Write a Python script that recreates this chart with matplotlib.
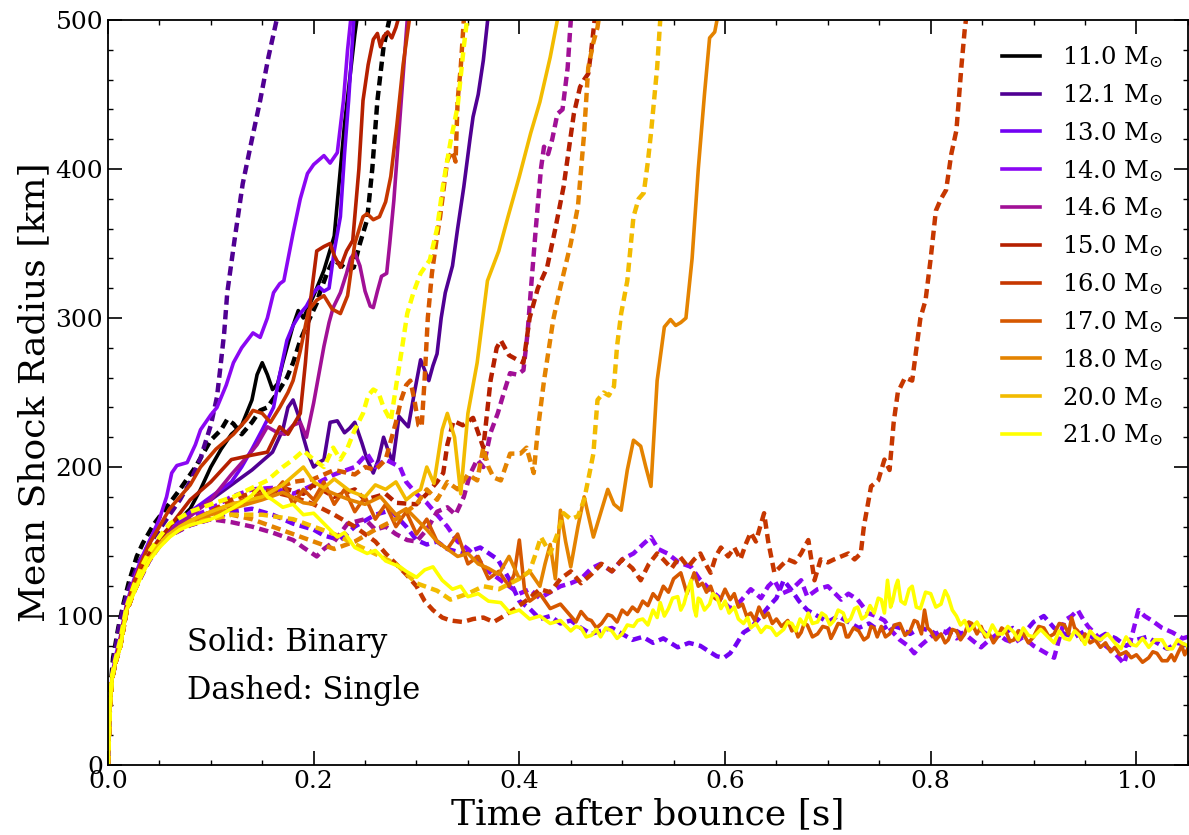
import numpy as np
import matplotlib
matplotlib.use("Agg")
import matplotlib.pyplot as plt

plt.rcParams['font.family'] = 'DejaVu Serif'
plt.rcParams['mathtext.fontset'] = 'dejavuserif'

masses = ["11.0", "12.1", "13.0", "14.0", "14.6", "15.0", "16.0", "17.0", "18.0", "20.0", "21.0"]

# binary progenitors (solid), (time [s], mean shock radius [km])
b11 = [(0,0),(0.002,40),(0.004,58),(0.007,68),(0.012,82),(0.018,104),(0.025,118),(0.032,128),(0.04,140),(0.05,150),(0.06,158),(0.07,165),(0.08,172),(0.09,185),(0.10,200),(0.11,212),(0.12,222),(0.13,228),(0.14,245),(0.145,262),(0.15,270),(0.155,262),(0.16,252),(0.165,256),(0.17,270),(0.18,295),(0.185,305),(0.19,300),(0.20,315),(0.21,332),(0.22,355),(0.23,430),(0.24,490),(0.245,515)]
b12 = [(0,0),(0.002,40),(0.004,58),(0.007,68),(0.012,82),(0.018,104),(0.025,118),(0.032,128),(0.04,140),(0.05,150),(0.06,157),(0.08,168),(0.10,178),(0.12,188),(0.14,198),(0.16,210),(0.17,225),(0.175,240),(0.18,245),(0.185,235),(0.19,220),(0.195,208),(0.20,200),(0.205,203),(0.21,205),(0.216,230),(0.223,231),(0.23,223),(0.235,226),(0.24,230),(0.247,216),(0.252,205),(0.258,196),(0.263,205),(0.268,220),(0.272,212),(0.277,203),(0.283,234),(0.288,230),(0.292,227),(0.298,250),(0.304,272),(0.308,265),(0.312,258),(0.316,268),(0.32,276),(0.324,300),(0.328,317),(0.335,335),(0.34,360),(0.346,388),(0.352,420),(0.355,435),(0.36,450),(0.365,473),(0.37,505)]
b13 = [(0,0),(0.002,40),(0.004,58),(0.007,68),(0.012,82),(0.018,104),(0.025,118),(0.032,128),(0.04,140),(0.05,150),(0.06,158),(0.08,170),(0.10,180),(0.12,190),(0.13,200),(0.14,212),(0.15,225),(0.161,240),(0.167,262),(0.174,285),(0.18,295),(0.187,303),(0.193,308),(0.20,317),(0.205,321),(0.21,318),(0.215,320),(0.22,345),(0.226,368),(0.23,410),(0.234,446),(0.239,500),(0.243,530)]
b14 = [(0,0),(0.002,42),(0.004,60),(0.007,72),(0.012,86),(0.018,108),(0.025,124),(0.032,138),(0.04,150),(0.05,165),(0.057,180),(0.062,196),(0.067,201),(0.077,203),(0.085,215),(0.09,225),(0.10,235),(0.106,240),(0.115,255),(0.122,270),(0.13,280),(0.141,290),(0.148,287),(0.155,300),(0.161,317),(0.167,323),(0.171,325),(0.18,357),(0.187,380),(0.194,397),(0.20,403),(0.21,409),(0.216,404),(0.223,411),(0.229,446),(0.233,480),(0.236,500),(0.24,520)]
b146 = [(0,0),(0.002,40),(0.004,58),(0.007,68),(0.012,82),(0.018,104),(0.025,118),(0.032,128),(0.04,140),(0.05,150),(0.06,157),(0.08,167),(0.10,178),(0.12,195),(0.138,209),(0.145,215),(0.155,227),(0.165,223),(0.172,222),(0.18,228),(0.187,230),(0.193,220),(0.20,243),(0.205,262),(0.21,281),(0.215,297),(0.219,307),(0.226,317),(0.232,330),(0.236,340),(0.24,344),(0.245,335),(0.25,318),(0.255,308),(0.258,307),(0.262,318),(0.266,328),(0.271,330),(0.274,350),(0.278,379),(0.284,435),(0.291,500),(0.294,520)]
b15 = [(0,0),(0.002,40),(0.004,58),(0.007,68),(0.012,82),(0.018,104),(0.025,118),(0.032,130),(0.04,142),(0.05,152),(0.06,160),(0.08,178),(0.10,190),(0.12,205),(0.14,208),(0.155,210),(0.167,227),(0.175,222),(0.187,236),(0.192,270),(0.197,312),(0.203,345),(0.21,348),(0.216,350),(0.22,342),(0.226,334),(0.232,345),(0.238,352),(0.244,400),(0.248,446),(0.253,470),(0.258,487),(0.262,491),(0.265,482),(0.268,489),(0.272,492),(0.276,488),(0.28,495),(0.284,505)]
b16 = [(0,0),(0.002,40),(0.004,58),(0.007,68),(0.012,84),(0.018,106),(0.025,122),(0.032,135),(0.04,148),(0.05,160),(0.06,172),(0.08,188),(0.09,200),(0.105,212),(0.122,222),(0.135,232),(0.141,238),(0.15,236),(0.158,230),(0.167,240),(0.175,250),(0.18,258),(0.187,278),(0.195,305),(0.203,312),(0.21,315),(0.218,306),(0.226,303),(0.233,315),(0.24,350),(0.248,368),(0.252,370),(0.258,366),(0.264,368),(0.27,378),(0.275,395),(0.281,430),(0.287,470),(0.294,505)]
b17 = [(0,0),(0.002,40),(0.004,58),(0.007,68),(0.012,80),(0.018,104),(0.025,116),(0.032,127),(0.04,138),(0.05,148),(0.06,155),(0.07,160),(0.08,164),(0.10,170),(0.12,175),(0.14,178),(0.16,182),(0.17,190),(0.18,175),(0.19,185),(0.20,178),(0.21,190),(0.22,175),(0.23,185),(0.24,170),(0.25,180),(0.26,165),(0.27,175),(0.28,160),(0.29,170),(0.30,155),(0.31,165),(0.32,150),(0.33,145),(0.34,155),(0.35,135),(0.36,140),(0.37,125),(0.38,130),(0.39,120),(0.395,128),(0.40,151),(0.405,118),(0.41,110),(0.42,115),(0.43,105),(0.44,108),
       (0.45,100),(0.455,96),(0.46,103),(0.466,98),(0.47,97),(0.475,92),(0.48,95),(0.486,101),(0.49,100),(0.495,96),(0.5,104),(0.505,101),(0.51,106),(0.515,103),(0.52,110),(0.525,107),(0.53,115),(0.535,111),(0.54,120),(0.545,116),(0.55,125),(0.557,129),(0.563,115),(0.57,129),(0.574,120),(0.578,122),(0.582,116),(0.586,120),(0.59,112),(0.595,110),(0.6,118),(0.605,111),(0.609,115),(0.613,106),(0.617,108),(0.621,100),(0.625,102),(0.629,97),(0.633,106),(0.638,99),(0.642,102),(0.646,95),(0.65,98),(0.655,93),(0.661,97),(0.665,90),(0.668,92),(0.671,86),(0.674,89),(0.677,95),(0.68,94),(0.685,86),(0.69,88),(0.695,93),(0.7,92),(0.703,85),(0.706,89),(0.71,95),(0.715,94),(0.718,86),(0.72,86),(0.725,92),(0.73,90),(0.735,84),(0.739,86),(0.742,93),(0.745,92),(0.748,86),(0.752,93),(0.756,86),(0.76,88),(0.765,94),(0.77,95),(0.775,87),(0.78,90),(0.784,97),(0.787,96),(0.791,88),(0.794,104),(0.797,92),(0.8,90),(0.805,84),(0.81,88),(0.814,82),(0.817,84),(0.821,91),(0.825,90),(0.829,84),(0.833,88),(0.837,96),(0.84,95),(0.845,88),(0.849,93),(0.853,86),(0.857,88),(0.861,82),(0.865,86),(0.869,92),(0.873,90),(0.877,83),(0.881,84),(0.885,90),(0.89,88),(0.895,82),(0.9,86),(0.905,93),(0.91,92),(0.915,86),(0.92,88),(0.925,95),(0.93,94),(0.934,88),(0.937,99),(0.94,92),(0.943,90),(0.947,84),(0.95,88),(0.955,82),(0.96,84),(0.965,79),(0.97,82),(0.975,76),(0.979,79),(0.984,74),(0.99,76),(0.995,72),(1.0,74),(1.006,69),(1.012,72),(1.016,76),(1.02,75),(1.025,70),(1.03,70),(1.034,74),(1.037,70),(1.041,76),(1.044,80),(1.047,74),(1.05,78)]
b18 = [(0,0),(0.002,40),(0.004,58),(0.007,68),(0.012,80),(0.018,104),(0.025,116),(0.032,127),(0.04,138),(0.05,148),(0.06,155),(0.07,160),(0.08,163),(0.10,168),(0.12,172),(0.15,178),(0.17,183),(0.19,176),(0.20,175),(0.21,185),(0.22,182),(0.235,178),(0.25,175),(0.265,180),(0.28,168),(0.29,172),(0.30,165),(0.31,158),(0.32,150),(0.33,145),(0.34,140),(0.35,142),(0.36,135),(0.37,132),(0.38,128),(0.39,140),(0.40,125),(0.41,130),(0.42,120),(0.425,135),(0.43,148),(0.435,125),(0.44,171),(0.445,150),(0.45,133),(0.457,160),(0.463,180),(0.468,165),(0.472,153),(0.479,169),(0.486,185),(0.492,175),(0.499,171),(0.505,198),(0.511,218),(0.518,214),(0.523,200),(0.528,187),(0.534,258),(0.541,294),(0.547,299),(0.552,295),(0.557,297),(0.562,300),(0.568,340),(0.574,400),(0.58,450),(0.585,488),(0.59,492),(0.595,510)]
b20 = [(0,0),(0.002,40),(0.004,58),(0.007,68),(0.012,80),(0.018,104),(0.025,116),(0.032,127),(0.04,138),(0.05,148),(0.06,155),(0.07,160),(0.08,164),(0.10,170),(0.12,175),(0.15,180),(0.17,188),(0.19,200),(0.20,190),(0.21,186),(0.22,192),(0.235,184),(0.25,180),(0.26,188),(0.27,185),(0.28,190),(0.29,178),(0.297,182),(0.304,185),(0.31,200),(0.317,189),(0.325,225),(0.33,236),(0.337,220),(0.343,182),(0.35,236),(0.359,270),(0.369,325),(0.38,345),(0.389,368),(0.40,395),(0.411,424),(0.42,445),(0.43,475),(0.437,500),(0.44,510)]
b21 = [(0,0),(0.002,40),(0.004,58),(0.007,68),(0.012,79),(0.018,104),(0.025,115),(0.032,126),(0.04,137),(0.05,146),(0.06,153),(0.07,158),(0.08,161),(0.09,163),(0.10,165),(0.11,168),(0.12,172),(0.13,176),(0.14,181),(0.148,187),(0.155,180),(0.16,178),(0.17,173),(0.18,175),(0.19,168),(0.20,169),(0.21,162),(0.223,153),(0.23,156),(0.24,146),(0.252,142),(0.26,144),(0.27,137),(0.284,133),(0.29,130),(0.30,126),(0.308,131),(0.316,133),(0.325,124),(0.335,118),(0.343,120),(0.35,113),(0.36,115),(0.37,110),(0.382,109),(0.391,102),(0.40,104),(0.41,98),(0.42,100),(0.43,95),(0.44,97),
       (0.45,90),(0.455,93),(0.46,92),(0.465,86),(0.47,87),(0.475,91),(0.479,86),(0.484,92),(0.49,90),(0.495,85),(0.5,88),(0.505,94),(0.511,93),(0.515,97),(0.52,98),(0.525,94),(0.53,104),(0.534,99),(0.537,109),(0.541,100),(0.545,105),(0.549,112),(0.554,113),(0.557,104),(0.56,108),(0.564,118),(0.567,124),(0.57,105),(0.572,100),(0.574,112),(0.576,111),(0.58,104),(0.585,108),(0.588,115),(0.592,113),(0.596,105),(0.6,110),(0.604,102),(0.609,106),(0.613,98),(0.618,95),(0.622,99),(0.625,92),(0.63,95),(0.635,89),(0.64,93),(0.645,92),(0.65,87),(0.657,91),(0.661,96),(0.665,95),(0.669,90),(0.673,98),(0.677,94),(0.681,102),(0.685,95),(0.69,96),(0.694,102),(0.698,100),(0.702,94),(0.706,97),(0.71,104),(0.715,102),(0.718,96),(0.722,98),(0.726,105),(0.729,106),(0.733,98),(0.737,100),(0.741,107),(0.745,102),(0.749,112),(0.752,111),(0.755,102),(0.758,124),(0.761,106),(0.763,110),(0.766,120),(0.768,124),(0.771,110),(0.775,108),(0.779,118),(0.782,120),(0.786,106),(0.79,105),(0.795,116),(0.8,115),(0.805,106),(0.81,108),(0.814,117),(0.817,113),(0.821,104),(0.825,100),(0.829,94),(0.833,97),(0.837,90),(0.84,92),(0.845,96),(0.849,91),(0.855,86),(0.86,94),(0.865,88),(0.87,88),(0.875,93),(0.881,89),(0.885,84),(0.89,92),(0.895,87),(0.9,86),(0.907,91),(0.914,86),(0.92,82),(0.925,90),(0.93,85),(0.935,84),(0.94,90),(0.946,86),(0.95,81),(0.955,90),(0.96,86),(0.965,84),(0.972,88),(0.979,82),(0.985,78),(0.99,86),(0.995,81),(1.0,80),(1.006,85),(1.012,79),(1.018,84),(1.025,84),(1.03,78),(1.035,78),(1.04,84),(1.044,82),(1.05,80)]

# single progenitors (dashed)
s11 = [(0,0),(0.002,48),(0.005,72),(0.01,92),(0.015,108),(0.02,122),(0.028,140),(0.034,149),(0.045,162),(0.057,173),(0.07,185),(0.085,200),(0.10,218),(0.11,225),(0.116,232),(0.122,229),(0.13,222),(0.14,230),(0.148,238),(0.155,240),(0.165,250),(0.174,260),(0.18,270),(0.187,285),(0.195,298),(0.203,310),(0.206,317),(0.213,330),(0.219,339),(0.226,336),(0.233,332),(0.239,334),(0.245,350),(0.252,366),(0.257,400),(0.262,446),(0.268,482),(0.275,505)]
s12 = [(0,0),(0.002,45),(0.005,68),(0.01,90),(0.015,106),(0.02,118),(0.03,136),(0.04,148),(0.05,158),(0.06,168),(0.07,178),(0.08,190),(0.09,206),(0.10,228),(0.106,247),(0.109,265),(0.113,290),(0.116,317),(0.123,352),(0.131,390),(0.14,420),(0.148,446),(0.156,475),(0.164,500),(0.168,515)]
s13 = [(0,0),(0.002,40),(0.004,58),(0.007,68),(0.012,80),(0.018,103),(0.025,116),(0.032,126),(0.04,137),(0.05,147),(0.06,154),(0.08,161),(0.10,165),(0.12,170),(0.14,172),(0.16,168),(0.18,162),(0.20,158),(0.21,154),(0.226,151),(0.24,160),(0.26,168),(0.275,171),(0.29,160),(0.30,151),(0.31,148),(0.32,150),(0.33,145),(0.346,142),(0.362,146),(0.379,138),(0.39,125),(0.40,110),(0.41,105),(0.42,98),(0.43,100),(0.44,95),(0.45,97),(0.46,92),(0.47,88),(0.479,90),(0.49,92),(0.50,88),(0.51,84),(0.52,86),(0.53,82),(0.54,85),(0.554,79),(0.565,82),(0.576,80),(0.585,76),(0.592,73),(0.599,72),(0.605,75),(0.61,80),(0.618,89),(0.625,92),(0.635,100),(0.642,106),(0.65,112),(0.657,124),(0.664,118),(0.672,110),(0.68,104),(0.69,100),(0.70,96),(0.71,100),(0.72,96),(0.73,92),(0.74,95),(0.75,90),(0.76,94),(0.77,92),(0.78,88),(0.79,92),(0.80,90),(0.81,86),(0.82,92),(0.83,88),(0.84,94),(0.85,90),(0.86,85),(0.87,88),(0.88,92),(0.89,88),(0.90,96),(0.91,100),(0.92,92),(0.93,88),(0.94,86),(0.95,90),(0.96,84),(0.97,88),(0.98,85),(0.99,80),(1.0,84),(1.01,86),(1.02,82),(1.03,78),(1.04,82),(1.05,80)]
s14 = [(0,0),(0.002,40),(0.004,58),(0.007,68),(0.012,82),(0.018,105),(0.025,118),(0.032,128),(0.04,140),(0.05,150),(0.06,158),(0.08,166),(0.10,172),(0.12,180),(0.14,185),(0.16,186),(0.18,182),(0.20,188),(0.22,195),(0.24,200),(0.252,209),(0.26,200),(0.27,205),(0.284,200),(0.29,190),(0.30,182),(0.31,176),(0.32,168),(0.33,160),(0.34,150),(0.35,145),(0.36,138),(0.37,130),(0.38,125),(0.39,120),(0.40,115),(0.41,118),(0.42,112),(0.43,116),(0.44,120),(0.45,122),(0.46,125),(0.47,132),(0.479,135),(0.49,130),(0.50,138),(0.511,142),(0.52,148),(0.528,153),(0.535,145),(0.544,142),(0.555,136),(0.567,133),(0.575,125),(0.585,118),(0.595,112),(0.605,105),(0.615,110),(0.625,118),(0.635,112),(0.642,120),(0.648,124),(0.655,115),(0.665,118),(0.674,124),(0.68,113),(0.69,118),(0.70,120),(0.713,111),(0.72,115),(0.729,111),(0.739,102),(0.747,100),(0.755,97),(0.762,90),(0.77,84),(0.778,80),(0.784,75),(0.79,80),(0.80,86),(0.81,90),(0.817,89),(0.825,85),(0.833,88),(0.84,84),(0.849,79),(0.857,84),(0.865,88),(0.873,84),(0.881,82),(0.89,86),(0.90,80),(0.91,76),(0.92,72),(0.925,85),(0.93,97),(0.937,100),(0.943,104),(0.948,98),(0.953,93),(0.96,88),(0.97,80),(0.979,75),(0.988,68),(0.995,85),(1.002,104),(1.008,100),(1.015,97),(1.025,92),(1.035,89),(1.045,85),(1.05,86)]
s146 = [(0,0),(0.002,40),(0.004,58),(0.007,68),(0.012,80),(0.018,103),(0.025,116),(0.032,126),(0.04,137),(0.05,147),(0.06,154),(0.08,161),(0.10,165),(0.12,163),(0.14,160),(0.16,156),(0.18,151),(0.19,146),(0.203,140),(0.21,145),(0.22,150),(0.233,162),(0.25,165),(0.26,158),(0.27,160),(0.28,155),(0.291,151),(0.30,150),(0.31,158),(0.32,170),(0.33,173),(0.338,168),(0.346,180),(0.352,195),(0.359,205),(0.365,200),(0.372,223),(0.379,236),(0.385,250),(0.391,263),(0.398,262),(0.404,265),(0.408,290),(0.411,317),(0.416,360),(0.421,400),(0.424,415),(0.428,410),(0.432,420),(0.437,437),(0.442,440),(0.447,468),(0.45,500),(0.452,515)]
s15 = [(0,0),(0.002,40),(0.004,58),(0.007,68),(0.012,80),(0.018,103),(0.025,116),(0.032,127),(0.04,138),(0.05,148),(0.06,155),(0.08,162),(0.10,168),(0.12,172),(0.15,180),(0.17,186),(0.19,182),(0.20,188),(0.22,180),(0.24,185),(0.25,178),(0.27,182),(0.28,176),(0.30,175),(0.31,182),(0.32,190),(0.326,196),(0.33,215),(0.336,231),(0.345,228),(0.355,233),(0.365,213),(0.372,258),(0.378,280),(0.382,285),(0.39,275),(0.398,272),(0.404,270),(0.41,300),(0.418,320),(0.427,334),(0.435,360),(0.443,388),(0.453,437),(0.459,455),(0.463,460),(0.467,464),(0.47,480),(0.474,505)]
s16 = [(0,0),(0.002,40),(0.004,58),(0.007,68),(0.012,80),(0.018,103),(0.025,116),(0.032,127),(0.04,138),(0.05,148),(0.06,155),(0.08,163),(0.10,170),(0.12,178),(0.15,185),(0.18,180),(0.20,175),(0.22,168),(0.24,160),(0.26,150),(0.27,142),(0.28,135),(0.29,128),(0.30,120),(0.308,110),(0.316,104),(0.325,99),(0.333,97),(0.345,96),(0.355,98),(0.365,99),(0.375,96),(0.385,100),(0.398,106),(0.41,112),(0.42,118),(0.43,116),(0.44,125),(0.45,130),(0.46,122),(0.47,128),(0.48,135),(0.49,130),(0.50,138),(0.51,132),(0.518,124),(0.526,135),(0.534,142),(0.54,138),(0.548,132),(0.556,140),(0.564,133),(0.57,138),(0.576,142),(0.581,135),(0.586,129),(0.591,140),(0.596,146),(0.603,140),(0.609,146),(0.615,138),(0.62,148),(0.625,156),(0.63,150),(0.635,162),(0.638,169),(0.642,150),(0.648,129),(0.655,134),(0.661,138),(0.668,136),(0.674,142),(0.681,151),(0.687,124),(0.693,138),(0.70,136),(0.706,138),(0.713,140),(0.72,142),(0.726,138),(0.732,142),(0.735,160),(0.742,187),(0.749,191),(0.755,205),(0.76,198),(0.764,230),(0.768,250),(0.775,260),(0.782,258),(0.79,300),(0.795,312),(0.80,340),(0.805,372),(0.81,380),(0.815,386),(0.82,410),(0.825,426),(0.83,470),(0.833,493),(0.836,510)]
s17 = [(0,0),(0.002,40),(0.004,58),(0.007,68),(0.012,80),(0.018,103),(0.025,116),(0.032,127),(0.04,138),(0.05,148),(0.06,155),(0.08,163),(0.10,170),(0.12,175),(0.15,182),(0.18,190),(0.20,192),(0.22,198),(0.24,195),(0.25,200),(0.26,198),(0.27,205),(0.28,230),(0.285,245),(0.29,255),(0.294,258),(0.298,245),(0.302,228),(0.305,227),(0.308,260),(0.311,300),(0.315,330),(0.32,355),(0.323,368),(0.327,390),(0.33,406),(0.335,412),(0.338,405),(0.34,446),(0.343,468),(0.346,500),(0.348,515)]
s18 = [(0,0),(0.002,40),(0.004,58),(0.007,68),(0.012,80),(0.018,103),(0.025,116),(0.032,127),(0.04,138),(0.05,148),(0.06,155),(0.08,162),(0.10,165),(0.12,168),(0.14,165),(0.16,160),(0.18,155),(0.20,150),(0.22,145),(0.24,150),(0.26,158),(0.28,165),(0.30,175),(0.31,185),(0.32,178),(0.33,190),(0.34,185),(0.35,195),(0.359,191),(0.365,213),(0.37,200),(0.375,193),(0.382,191),(0.391,209),(0.401,209),(0.407,213),(0.414,196),(0.418,225),(0.424,258),(0.433,299),(0.44,321),(0.45,350),(0.457,375),(0.463,424),(0.467,468),(0.472,485),(0.476,495),(0.48,515)]
s20 = [(0,0),(0.002,40),(0.004,58),(0.007,68),(0.012,80),(0.018,103),(0.025,116),(0.032,127),(0.04,138),(0.05,148),(0.06,155),(0.08,162),(0.10,165),(0.12,168),(0.15,168),(0.18,165),(0.20,160),(0.22,155),(0.25,145),(0.28,135),(0.30,122),(0.32,117),(0.333,111),(0.35,115),(0.365,120),(0.38,118),(0.40,125),(0.41,130),(0.415,140),(0.421,153),(0.43,142),(0.437,155),(0.443,169),(0.45,165),(0.457,167),(0.463,178),(0.468,195),(0.472,209),(0.476,245),(0.482,250),(0.487,248),(0.492,254),(0.495,281),(0.499,303),(0.505,325),(0.511,368),(0.516,380),(0.521,384),(0.525,405),(0.528,424),(0.534,468),(0.537,500),(0.54,515)]
s21 = [(0,0),(0.002,42),(0.004,60),(0.007,70),(0.012,84),(0.018,106),(0.025,120),(0.032,132),(0.04,143),(0.05,153),(0.06,162),(0.08,170),(0.10,175),(0.122,180),(0.14,186),(0.155,191),(0.17,200),(0.18,205),(0.19,211),(0.20,205),(0.21,200),(0.219,213),(0.226,205),(0.233,213),(0.24,225),(0.248,236),(0.253,248),(0.258,252),(0.263,250),(0.268,240),(0.275,231),(0.281,258),(0.286,280),(0.291,303),(0.297,317),(0.304,330),(0.313,339),(0.32,360),(0.326,390),(0.333,418),(0.34,442),(0.346,482),(0.35,505)]

binary = [b11, b12, b13, b14, b146, b15, b16, b17, b18, b20, b21]
single = [s11, s12, s13, s14, s146, s15, s16, s17, s18, s20, s21]

colors = plt.cm.gnuplot(np.linspace(0, 1, len(masses)))

fig = plt.figure(figsize=(11.89, 8.35), dpi=100)
ax = fig.add_axes([0.0908, 0.0838, 0.9082, 0.8922])

for m, b, s, c in zip(masses, binary, single, colors):
    bt, br = zip(*b)
    st, sr = zip(*s)
    ax.plot(bt, br, color=c, lw=2.6, label=r"%s $\mathrm{M}_{\odot}$" % m)
    ax.plot(st, sr, color=c, lw=3.2, linestyle=(0, (2.1, 1.2)))

ax.set_xlim(0, 1.05)
ax.set_ylim(0, 500)
ax.set_xticks([0.0, 0.2, 0.4, 0.6, 0.8, 1.0])
ax.set_yticks([0, 100, 200, 300, 400, 500])
ax.xaxis.set_minor_locator(matplotlib.ticker.MultipleLocator(0.05))
ax.yaxis.set_minor_locator(matplotlib.ticker.MultipleLocator(20))
ax.tick_params(which='both', direction='in', top=True, right=True, labelsize=18)
ax.tick_params(which='major', length=10, width=1.2)
ax.tick_params(which='minor', length=3.5, width=1)
for sp in ax.spines.values():
    sp.set_linewidth(1.3)

ax.set_xlabel("Time after bounce [s]", fontsize=26, labelpad=3)
ax.set_ylabel("Mean Shock Radius [km]", fontsize=26, labelpad=3)

ax.text(0.077, 82, "Solid: Binary", fontsize=22, va='center')
ax.text(0.077, 50, "Dashed: Single", fontsize=22, va='center')

ax.legend(loc='upper right', frameon=False, fontsize=17.5, handlelength=1.6,
          handletextpad=0.9, labelspacing=0.49, borderaxespad=0.6)

fig.savefig("out.png", dpi=100)
